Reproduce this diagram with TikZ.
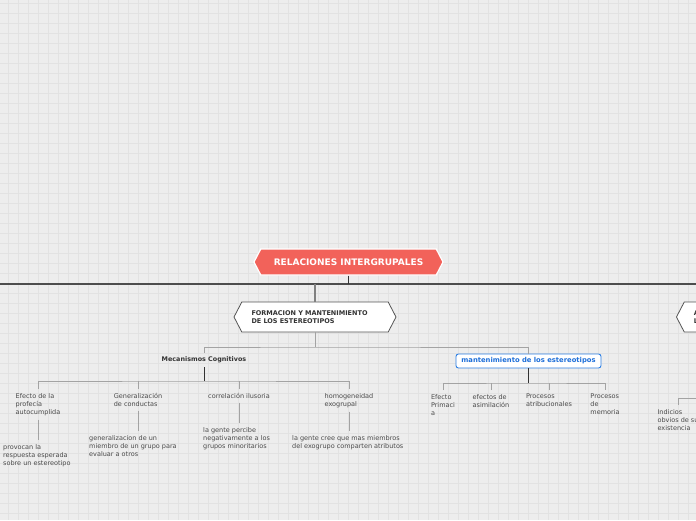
\documentclass[tikz,border=0pt]{standalone}
\usepackage{fontspec}
\setmainfont{DejaVu Sans}
\usetikzlibrary{positioning, shapes.symbols}

\definecolor{bgpaper}{HTML}{EDEDED}
\definecolor{gridline}{HTML}{E2E2E2}
\definecolor{rootred}{HTML}{F2625A}
\definecolor{hexedge}{HTML}{555555}
\definecolor{barline}{HTML}{4D4D4D}
\definecolor{stemline}{HTML}{333333}
\definecolor{twigline}{HTML}{A3A3A3}
\definecolor{inkdark}{HTML}{333333}
\definecolor{inktext}{HTML}{4A4A4A}
\definecolor{blueline}{HTML}{2D7FE3}
\definecolor{bluetext}{HTML}{1E6FD9}

\begin{document}
\begin{tikzpicture}[x=1pt, y=-1pt,
    rootbox/.style={signal, signal to=west and east, signal pointer angle=125, draw=white, fill=rootred, line width=1.2pt, minimum width=189pt, minimum height=26pt, inner sep=0pt, text=white, font=\bfseries\fontsize{9}{11}\selectfont},
    hexbox/.style={signal, signal to=west and east, signal pointer angle=125, draw=hexedge, fill=white, line width=0.8pt, minimum width=162pt, minimum height=30pt, text width=127pt, align=left, inner sep=0pt, text=inkdark, font=\bfseries\fontsize{6.5}{8}\selectfont},
    subhead/.style={inner sep=0pt, minimum height=14pt, text=inkdark, font=\bfseries\fontsize{6.4}{8}\selectfont},
    bluebox/.style={draw=blueline, fill=white, rounded corners=2.5pt, line width=0.9pt, minimum width=145pt, minimum height=14pt, inner sep=0pt, text=bluetext, font=\bfseries\fontsize{6.8}{8}\selectfont},
    leaf/.style={align=left, inner xsep=0pt, inner ysep=4pt, text=inktext, font=\fontsize{6.5}{8}\selectfont},
    mainbar/.style={draw=barline, line width=1.6pt},
    stem/.style={draw=stemline, line width=1pt},
    twig/.style={draw=twigline, line width=0.9pt}
]
\useasboundingbox (0,0) rectangle (696,520);

% paper with grid
\fill[bgpaper] (0,0) rectangle (696,520);
\foreach \gx in {8,18,...,688}
    \draw[gridline, line width=0.8pt] (\gx,0) -- (\gx,520);
\foreach \gy in {3,13,...,513}
    \draw[gridline, line width=0.8pt] (0,\gy) -- (696,\gy);

% main topics
\node[rootbox] (root) at (348.5,262) {RELACIONES INTERGRUPALES};
\node[hexbox] (form) at (315,317) {FORMACION Y MANTENIMIENTO\\DE LOS ESTEREOTIPOS};
\node[hexbox, anchor=west] (rside) at (676,317) {A\\L};

\node[subhead] (mec) at (204,360) {Mecanismos Cognitivos};
\node[bluebox] (mant) at (528.5,361) {mantenimiento de los estereotipos};

% cognitive mechanisms
\node[leaf, anchor=north] (profecia) at (38,389) {Efecto de la\\profecía\\autocumplida};
\node[leaf, anchor=north] (generaliz) at (138,389) {Generalización\\de conductas};
\node[leaf, anchor=north] (correl) at (239,389) {correlación ilusoria};
\node[leaf, anchor=north] (homog) at (349,389) {homogeneidad\\exogrupal};

\node[leaf, anchor=north west] (provocan) at (3,440) {provocan la\\respuesta esperada\\sobre un estereotipo};
\node[leaf, anchor=north west] (miembro) at (89,431) {generalizacion de un\\miembro de un grupo para\\evaluar a otros};
\node[leaf, anchor=north west] (percibe) at (203,423) {la gente percibe\\negativamente a los\\grupos minoritarios};
\node[leaf, anchor=north west] (cree) at (292,431) {la gente cree que mas miembros\\del exogrupo comparten atributos};

% maintenance
\node[leaf, anchor=north] (primacia) at (443,390) {Efecto\\Primaci\\a};
\node[leaf, anchor=north] (asimil) at (491,390) {efectos de\\asimilación};
\node[leaf, anchor=north] (atrib) at (549,390) {Procesos\\atribucionales};
\node[leaf, anchor=north] (memoria) at (605,390) {Procesos\\de\\memoria};

\node[leaf, anchor=north] (indicios) at (678,405) {Indicios\\obvios de su\\existencia};

% connectors
\coordinate (barW) at (0,284);
\coordinate (barE) at (696,284);
\coordinate (fbar) at (315,347);
\coordinate (mecbar) at (204,381);
\coordinate (mantbar) at (528.5,383);
\coordinate (rbar) at (696,398);

\draw[mainbar] (barW) -- (barE);
\draw[stem] (root.south) -- (root.south |- barW);
\draw[twig, line width=1.3pt, draw=gray] (form.north |- barW) -- (form.north);

\draw[twig] (form.south) -- (fbar);
\draw[twig] (mec.north) |- (fbar) -| (mant.north);

\draw[stem] (mec.south) -- (mecbar);
\draw[twig] (profecia.north) |- (mecbar) -| (homog.north);
\draw[twig] (generaliz.north) -- (generaliz.north |- mecbar);
\draw[twig] (correl.north) -- (correl.north |- mecbar);

\draw[twig] (profecia.south) -- (profecia.south |- provocan.north);
\draw[twig] (generaliz.south) -- (generaliz.south |- miembro.north);
\draw[twig] (correl.south) -- (correl.south |- percibe.north);
\draw[twig] (homog.south) -- (homog.south |- cree.north);

\draw[stem] (mant.south) -- (mantbar);
\draw[twig] (primacia.north) |- (mantbar) -| (memoria.north);
\draw[twig] (asimil.north) -- (asimil.north |- mantbar);
\draw[twig] (atrib.north) -- (atrib.north |- mantbar);

\draw[twig] (rbar) -| (indicios.north);
\end{tikzpicture}
\end{document}
